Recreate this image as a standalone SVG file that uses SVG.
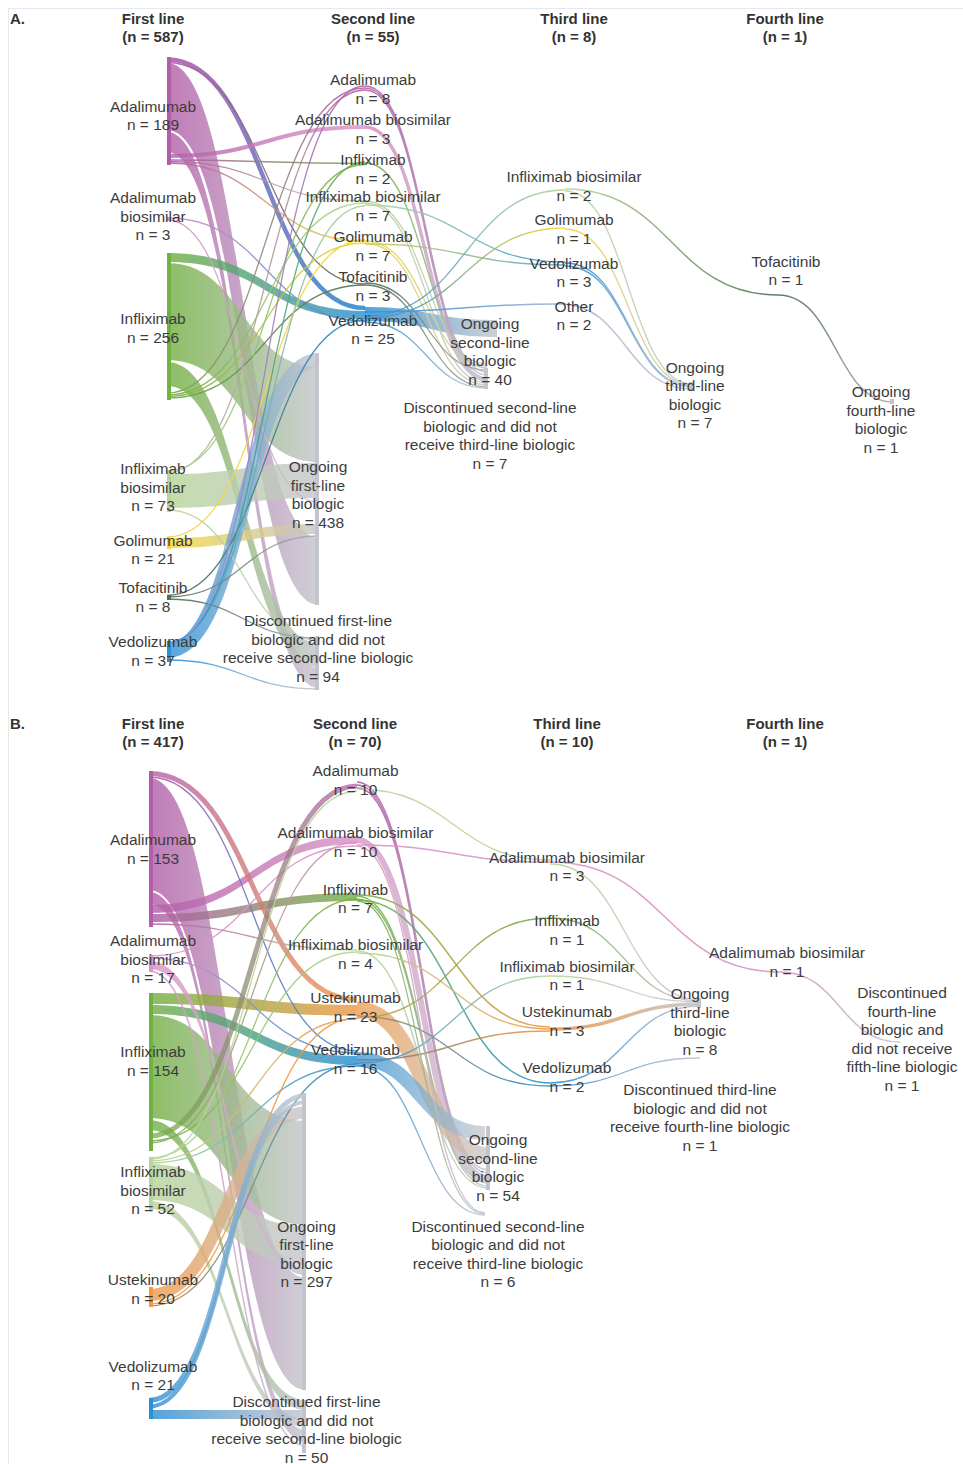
<svg xmlns="http://www.w3.org/2000/svg" width="963" height="1464" viewBox="0 0 963 1464">
<style>
.n{font-family:"Liberation Sans",Arial,sans-serif;font-size:15.5px;fill:#3c3c3c;text-anchor:middle}
.h{font-family:"Liberation Sans",Arial,sans-serif;font-size:15px;font-weight:bold;fill:#333;text-anchor:middle}
.p{font-family:"Liberation Sans",Arial,sans-serif;font-size:15px;font-weight:bold;fill:#333}
.b{fill-opacity:.82}
.l{fill:none}
.gr{fill:#c4c5cc}
</style>
<defs>
<linearGradient id="ADA_GR"><stop offset="0" stop-color="#b35ea9"/><stop offset="1" stop-color="#c4c5cc"/></linearGradient>
<linearGradient id="ADA_VED"><stop offset="0" stop-color="#b35ea9"/><stop offset="1" stop-color="#2b8fd4"/></linearGradient>
<linearGradient id="ADA_TOF"><stop offset="0" stop-color="#b35ea9"/><stop offset="1" stop-color="#4f6d50"/></linearGradient>
<linearGradient id="ADA_ADAb"><stop offset="0" stop-color="#b35ea9"/><stop offset="1" stop-color="#d993c5"/></linearGradient>
<linearGradient id="ADA_IFX"><stop offset="0" stop-color="#b35ea9"/><stop offset="1" stop-color="#72b043"/></linearGradient>
<linearGradient id="ADA_IFXb"><stop offset="0" stop-color="#b35ea9"/><stop offset="1" stop-color="#b7d598"/></linearGradient>
<linearGradient id="ADA_GOL"><stop offset="0" stop-color="#b35ea9"/><stop offset="1" stop-color="#f3d63c"/></linearGradient>
<linearGradient id="ADA_UST"><stop offset="0" stop-color="#b35ea9"/><stop offset="1" stop-color="#ef9845"/></linearGradient>
<linearGradient id="ADAb_VED"><stop offset="0" stop-color="#d993c5"/><stop offset="1" stop-color="#2b8fd4"/></linearGradient>
<linearGradient id="ADAb_GR"><stop offset="0" stop-color="#d993c5"/><stop offset="1" stop-color="#c4c5cc"/></linearGradient>
<linearGradient id="IFX_VED"><stop offset="0" stop-color="#72b043"/><stop offset="1" stop-color="#2b8fd4"/></linearGradient>
<linearGradient id="IFX_GR"><stop offset="0" stop-color="#72b043"/><stop offset="1" stop-color="#c4c5cc"/></linearGradient>
<linearGradient id="IFX_ADA"><stop offset="0" stop-color="#72b043"/><stop offset="1" stop-color="#b35ea9"/></linearGradient>
<linearGradient id="IFX_ADAb"><stop offset="0" stop-color="#72b043"/><stop offset="1" stop-color="#d993c5"/></linearGradient>
<linearGradient id="IFX_IFXb"><stop offset="0" stop-color="#72b043"/><stop offset="1" stop-color="#b7d598"/></linearGradient>
<linearGradient id="IFX_GOL"><stop offset="0" stop-color="#72b043"/><stop offset="1" stop-color="#f3d63c"/></linearGradient>
<linearGradient id="IFX_TOF"><stop offset="0" stop-color="#72b043"/><stop offset="1" stop-color="#4f6d50"/></linearGradient>
<linearGradient id="IFX_UST"><stop offset="0" stop-color="#72b043"/><stop offset="1" stop-color="#ef9845"/></linearGradient>
<linearGradient id="IFXb_GR"><stop offset="0" stop-color="#b7d598"/><stop offset="1" stop-color="#c4c5cc"/></linearGradient>
<linearGradient id="IFXb_IFX"><stop offset="0" stop-color="#b7d598"/><stop offset="1" stop-color="#72b043"/></linearGradient>
<linearGradient id="IFXb_ADA"><stop offset="0" stop-color="#b7d598"/><stop offset="1" stop-color="#b35ea9"/></linearGradient>
<linearGradient id="IFXb_VED"><stop offset="0" stop-color="#b7d598"/><stop offset="1" stop-color="#2b8fd4"/></linearGradient>
<linearGradient id="IFXb_TOF"><stop offset="0" stop-color="#b7d598"/><stop offset="1" stop-color="#4f6d50"/></linearGradient>
<linearGradient id="IFXb_UST"><stop offset="0" stop-color="#b7d598"/><stop offset="1" stop-color="#ef9845"/></linearGradient>
<linearGradient id="GOL_GR"><stop offset="0" stop-color="#f3d63c"/><stop offset="1" stop-color="#c4c5cc"/></linearGradient>
<linearGradient id="GOL_VED"><stop offset="0" stop-color="#c9cf5a"/><stop offset="1" stop-color="#5aa6c9"/></linearGradient>
<linearGradient id="TOF_VED"><stop offset="0" stop-color="#4f6d50"/><stop offset="1" stop-color="#2b8fd4"/></linearGradient>
<linearGradient id="TOF_GR"><stop offset="0" stop-color="#4f6d50"/><stop offset="1" stop-color="#a9b0b2"/></linearGradient>
<linearGradient id="VED_GR"><stop offset="0" stop-color="#2b8fd4"/><stop offset="1" stop-color="#c4c5cc"/></linearGradient>
<linearGradient id="VED_IFXb"><stop offset="0" stop-color="#2b8fd4"/><stop offset="1" stop-color="#b7d598"/></linearGradient>
<linearGradient id="VED_IFX"><stop offset="0" stop-color="#2b8fd4"/><stop offset="1" stop-color="#72b043"/></linearGradient>
<linearGradient id="VED_ADA"><stop offset="0" stop-color="#8fa0dd"/><stop offset="1" stop-color="#b35ea9"/></linearGradient>
<linearGradient id="VED_GOL"><stop offset="0" stop-color="#2b8fd4"/><stop offset="1" stop-color="#f3d63c"/></linearGradient>
<linearGradient id="VED_OTH"><stop offset="0" stop-color="#2b8fd4"/><stop offset="1" stop-color="#9eb2d2"/></linearGradient>
<linearGradient id="VED_UST"><stop offset="0" stop-color="#6f7a8a"/><stop offset="1" stop-color="#ef9845"/></linearGradient>
<linearGradient id="OTH_GR"><stop offset="0" stop-color="#9eb2d2"/><stop offset="1" stop-color="#c4c5cc"/></linearGradient>
<linearGradient id="UST_GR"><stop offset="0" stop-color="#ef9845"/><stop offset="1" stop-color="#c4c5cc"/></linearGradient>
<linearGradient id="UST_VED"><stop offset="0" stop-color="#b08a5a"/><stop offset="1" stop-color="#2b8fd4"/></linearGradient>
<linearGradient id="UST_IFX"><stop offset="0" stop-color="#c09a45"/><stop offset="1" stop-color="#72b043"/></linearGradient>
</defs>
<rect x="0" y="0" width="963" height="1464" fill="#fff"/>
<rect x="8.5" y="8.5" width="960" height="1460" fill="none" stroke="#e3e9ef"/>

<g id="connectors" stroke-width="1.3" stroke-opacity=".9">
<path class="b" fill="url(#ADA_GR)" d="M167,63C243,63 243,538 319,538L319,605C243,605 243,130 167,130Z"/>
<path class="b" fill="url(#ADA_GR)" d="M167,132C243,132 243,668 319,668L319,688C243,688 243,152 167,152Z"/>
<path class="b" fill="url(#IFX_GR)" d="M167,263C243,263 243,367 319,367L319,462C243,462 243,360 167,360Z"/>
<path class="b" fill="url(#IFX_GR)" d="M167,362C243,362 243,643 319,643L319,667C243,667 243,386 167,386Z"/>
<path class="b" fill="url(#IFXb_GR)" d="M167,474C243,474 243,463 319,463L319,498C243,498 243,508 167,508Z"/>
<path class="b" fill="url(#GOL_GR)" d="M167,538C243,538 243,524 319,524L319,534C243,534 243,548 167,548Z"/>
<path class="b" fill="url(#IFX_VED)" d="M167,253C266,253 266,311 365,311L365,319C266,319 266,262 167,262Z"/>
<path class="b" fill="url(#VED_GR)" d="M365,307C431,307 431,320 497,320L497,337C431,337 431,321 365,321Z"/>
<path class="l" stroke="url(#VED_GR)" stroke-width="14" stroke-opacity=".8" d="M167,651C243,651 243,360 319,360"/>
<path class="l" stroke="url(#ADA_VED)" stroke-width="4.5" d="M167,59.5C266,59.5 266,308 365,308"/>
<path class="l" stroke="url(#ADA_TOF)" d="M167,62.5C266,62.5 266,284 365,284"/>
<path class="l" stroke="url(#ADA_ADAb)" stroke-width="4" stroke-opacity=".8" d="M167,156C266,156 266,127 365,127"/>
<path class="l" stroke="url(#ADA_IFX)" stroke-width="1.5" d="M167,160C266,160 266,163.5 365,163.5"/>
<path class="l" stroke="url(#ADA_IFXb)" d="M167,161.5C266,161.5 266,201 365,201"/>
<path class="l" stroke="url(#ADA_GOL)" d="M167,163C266,163 266,241 365,241"/>
<path class="l" stroke="url(#ADAb_VED)" d="M167,218C266,218 266,321 365,321"/>
<path class="l" stroke="url(#ADAb_GR)" d="M167,220C243,220 243,502 319,502"/>
<path class="l" stroke="url(#IFX_ADA)" d="M167,393C266,393 266,88 365,88"/>
<path class="l" stroke="url(#IFX_IFXb)" d="M167,395C266,395 266,203 365,203"/>
<path class="l" stroke="url(#IFX_GOL)" d="M167,396.5C266,396.5 266,243 365,243"/>
<path class="l" stroke="url(#IFX_TOF)" d="M167,398C266,398 266,285 365,285"/>
<path class="l" stroke="url(#IFXb_IFX)" d="M167,471C266,471 266,164.5 365,164.5"/>
<path class="l" stroke="url(#IFXb_ADA)" d="M167,472.5C266,472.5 266,90 365,90"/>
<path class="l" stroke="url(#IFXb_GR)" d="M167,510C243,510 243,640 319,640"/>
<path class="l" stroke="#f3d63c" d="M167,537C266,537 266,240 365,240"/>
<path class="l" stroke="url(#TOF_VED)" d="M167,595.5C266,595.5 266,320 365,320"/>
<path class="l" stroke="url(#TOF_GR)" d="M167,597C243,597 243,536 319,536"/>
<path class="l" stroke="url(#TOF_GR)" d="M167,599C243,599 243,638 319,638"/>
<path class="l" stroke="url(#VED_IFXb)" d="M167,642C266,642 266,206 365,206"/>
<path class="l" stroke="url(#VED_IFX)" d="M167,643.5C266,643.5 266,162 365,162"/>
<path class="l" stroke="url(#VED_ADA)" d="M167,645C266,645 266,86 365,86"/>
<path class="l" stroke="url(#VED_GR)" d="M167,660C243,660 243,689 319,689"/>
<path class="l" stroke="url(#ADA_GR)" stroke-width="1.5" d="M365,86C426,86 426,372 487,372"/>
<path class="l" stroke="url(#ADA_GR)" stroke-width="1.5" d="M365,88C426,88 426,375 487,375"/>
<path class="l" stroke="url(#ADA_GR)" stroke-width="1.5" d="M365,90C426,90 426,378 487,378"/>
<path class="l" stroke="url(#ADAb_GR)" stroke-width="3.5" d="M365,127C426,127 426,380 487,380"/>
<path class="l" stroke="url(#IFX_GR)" stroke-width="1.5" d="M365,163C426,163 426,368 487,368"/>
<path class="l" stroke="url(#IFXb_GR)" d="M365,201C426,201 426,364 487,364"/>
<path class="l" stroke="url(#IFXb_GR)" d="M365,203C426,203 426,383 487,383"/>
<path class="l" stroke="url(#IFXb_VED)" d="M365,205C465,205 465,262 565,262"/>
<path class="l" stroke="url(#GOL_GR)" d="M365,241C426,241 426,366 487,366"/>
<path class="l" stroke="url(#GOL_GR)" d="M365,243C426,243 426,385 487,385"/>
<path class="l" stroke="url(#GOL_VED)" d="M365,244C465,244 465,265 565,265"/>
<path class="l" stroke="url(#TOF_GR)" d="M365,283C426,283 426,370 487,370"/>
<path class="l" stroke="url(#TOF_GR)" d="M365,285C426,285 426,387 487,387"/>
<path class="l" stroke="url(#VED_IFXb)" d="M365,316C465,316 465,190 565,190"/>
<path class="l" stroke="url(#VED_GOL)" d="M365,318C465,318 465,228 565,228"/>
<path class="l" stroke="url(#VED_OTH)" stroke-width="1.5" d="M365,312C462.5,312 462.5,304 560,304"/>
<path class="l" stroke="url(#VED_GR)" d="M365,322C426,322 426,388 487,388"/>
<path class="l" stroke="url(#IFXb_TOF)" stroke-width="1.5" d="M565,189C671.5,189 671.5,295 778,295"/>
<path class="l" stroke="url(#TOF_GR)" stroke-width="1.5" d="M778,295C835.5,295 835.5,402 893,402"/>
<path class="l" stroke="url(#IFXb_GR)" d="M565,191C628.5,191 628.5,384 692,384"/>
<path class="l" stroke="url(#GOL_GR)" d="M565,229C628.5,229 628.5,385 692,385"/>
<path class="l" stroke="url(#VED_GR)" d="M565,263C628.5,263 628.5,386 692,386"/>
<path class="l" stroke="url(#VED_GR)" d="M565,266C628.5,266 628.5,387 692,387"/>
<path class="l" stroke="url(#OTH_GR)" stroke-width="1.5" d="M560,304C626,304 626,389 692,389"/>

<path class="b" fill="url(#ADA_GR)" d="M149,778C227.5,778 227.5,1278 306,1278L306,1390C227.5,1390 227.5,890 149,890Z"/>
<path class="b" fill="url(#ADA_GR)" d="M149,892C227.5,892 227.5,1430 306,1430L306,1442C227.5,1442 227.5,904 149,904Z"/>
<path class="b" fill="url(#ADA_ADAb)" d="M149,905C253,905 253,836 357,836L357,844C253,844 253,913 149,913Z"/>
<path class="b" fill="url(#ADA_IFX)" d="M149,914C253,914 253,893 357,893L357,901C253,901 253,922 149,922Z"/>
<path class="b" fill="url(#IFX_UST)" d="M149,993C253,993 253,1005 357,1005L357,1016C253,1016 253,1004 149,1004Z"/>
<path class="b" fill="url(#IFX_VED)" d="M149,1005C253,1005 253,1056 357,1056L357,1065C253,1065 253,1014 149,1014Z"/>
<path class="b" fill="url(#IFX_GR)" d="M149,1015C227.5,1015 227.5,1121 306,1121L306,1225C227.5,1225 227.5,1118 149,1118Z"/>
<path class="b" fill="url(#IFX_GR)" d="M149,1120C227.5,1120 227.5,1400 306,1400L306,1410C227.5,1410 227.5,1130 149,1130Z"/>
<path class="b" fill="url(#IFXb_GR)" d="M149,1164C227.5,1164 227.5,1226 306,1226L306,1265C227.5,1265 227.5,1200 149,1200Z"/>
<path class="b" fill="url(#IFXb_GR)" d="M149,1201C227.5,1201 227.5,1419 306,1419L306,1427C227.5,1427 227.5,1209 149,1209Z"/>
<path class="b" fill="url(#VED_GR)" d="M149,1410L306,1410L306,1419L149,1419Z"/>
<path class="b" fill="url(#ADAb_GR)" d="M149,961C227.5,961 227.5,1267 306,1267L306,1275C227.5,1275 227.5,969 149,969Z"/>
<path class="l" stroke="url(#ADA_UST)" stroke-width="5" stroke-opacity=".8" d="M149,773.5C253,773.5 253,999.5 357,999.5"/>
<path class="l" stroke="url(#ADA_VED)" d="M149,777C253,777 253,1051 357,1051"/>
<path class="l" stroke="url(#ADA_IFXb)" d="M149,924C253,924 253,950 357,950"/>
<path class="l" stroke="#d993c5" d="M149,956C253,956 253,846 357,846"/>
<path class="l" stroke="url(#ADAb_VED)" d="M149,958C253,958 253,1053 357,1053"/>
<path class="l" stroke="url(#ADAb_GR)" stroke-width="1.5" d="M149,971C227.5,971 227.5,1446 306,1446"/>
<path class="l" stroke="url(#IFX_ADA)" stroke-width="5" stroke-opacity=".75" d="M149,1136C253,1136 253,786 357,786"/>
<path class="l" stroke="url(#IFX_IFXb)" d="M149,1141C253,1141 253,952 357,952"/>
<path class="l" stroke="url(#IFX_ADAb)" d="M149,1143C253,1143 253,842 357,842"/>
<path class="l" stroke="url(#IFXb_IFX)" d="M149,1158C253,1158 253,899 357,899"/>
<path class="l" stroke="#b7d598" d="M149,1159.5C253,1159.5 253,791 357,791"/>
<path class="l" stroke="url(#IFXb_UST)" d="M149,1161C253,1161 253,1019 357,1019"/>
<path class="l" stroke="url(#IFXb_VED)" d="M149,1163C253,1163 253,1066 357,1066"/>
<path class="l" stroke="url(#UST_GR)" stroke-width="12" stroke-opacity=".8" d="M149,1295C227.5,1295 227.5,1112.5 306,1112.5"/>
<path class="l" stroke="#ef9845" d="M149,1304C253,1304 253,1018 357,1018"/>
<path class="l" stroke="url(#UST_VED)" d="M149,1306C253,1306 253,1064 357,1064"/>
<path class="l" stroke="url(#VED_GR)" stroke-width="5" stroke-opacity=".8" d="M149,1400.5C227.5,1400.5 227.5,1095.5 306,1095.5"/>
<path class="l" stroke="url(#VED_GR)" stroke-width="4" stroke-opacity=".8" d="M149,1406.5C227.5,1406.5 227.5,1102 306,1102"/>
<path class="l" stroke="url(#ADA_GR)" stroke-width="1.6" d="M357,782C422.5,782 422.5,1170 488,1170"/>
<path class="l" stroke="url(#ADA_GR)" stroke-width="1.6" d="M357,785C422.5,785 422.5,1173 488,1173"/>
<path class="l" stroke="url(#ADA_GR)" stroke-width="1.6" d="M357,788C422.5,788 422.5,1176 488,1176"/>
<path class="l" stroke="#b7d598" d="M357,789C453.5,789 453.5,860 550,860"/>
<path class="l" stroke="url(#ADAb_GR)" stroke-width="6" stroke-opacity=".8" d="M357,840C422.5,840 422.5,1180 488,1180"/>
<path class="l" stroke="#d993c5" stroke-width="1.5" d="M357,845C453.5,845 453.5,862 550,862"/>
<path class="l" stroke="url(#IFX_GR)" stroke-width="1.5" d="M357,896C422.5,896 422.5,1183 488,1183"/>
<path class="l" stroke="url(#IFX_GR)" stroke-width="1.5" d="M357,899C422.5,899 422.5,1186 488,1186"/>
<path class="l" stroke="url(#IFX_UST)" stroke-width="1.5" d="M357,895C453.5,895 453.5,1027 550,1027"/>
<path class="l" stroke="url(#IFX_VED)" stroke-width="1.5" d="M357,900C453.5,900 453.5,1083 550,1083"/>
<path class="l" stroke="url(#IFXb_GR)" d="M357,951C422.5,951 422.5,1188 488,1188"/>
<path class="l" stroke="url(#IFXb_UST)" d="M357,953C453.5,953 453.5,1029 550,1029"/>
<path class="l" stroke="url(#UST_GR)" stroke-width="15" stroke-opacity=".75" d="M357,1009C423.5,1009 423.5,1155 490,1155"/>
<path class="l" stroke="url(#UST_VED)" d="M357,1016C453.5,1016 453.5,1086 550,1086"/>
<path class="l" stroke="url(#UST_IFX)" d="M357,1018C453.5,1018 453.5,918 550,918"/>
<path class="l" stroke="url(#VED_GR)" stroke-width="14" stroke-opacity=".72" d="M357,1059C421,1059 421,1133 485,1133"/>
<path class="l" stroke="url(#VED_IFXb)" d="M357,1063C453.5,1063 453.5,976 550,976"/>
<path class="l" stroke="url(#VED_UST)" stroke-width="1.5" d="M357,1060C453.5,1060 453.5,1031 550,1031"/>
<path class="l" stroke="url(#VED_GR)" d="M357,1066C421,1066 421,1215 485,1215"/>
<path class="l" stroke="url(#ADAb_GR)" d="M357,846C421,846 421,1213 485,1213"/>
<path class="l" stroke="url(#IFX_GR)" d="M357,901C421,901 421,1214 485,1214"/>
<path class="l" stroke="#d993c5" stroke-width="1.5" d="M550,862C665,862 665,972 780,972"/>
<path class="l" stroke="url(#ADAb_GR)" stroke-width="1.5" d="M780,972C840,972 840,1042 900,1042"/>
<path class="l" stroke="url(#IFXb_GR)" d="M550,864C625,864 625,1000 700,1000"/>
<path class="l" stroke="url(#IFX_GR)" d="M550,918C625,918 625,1001 700,1001"/>
<path class="l" stroke="url(#IFXb_GR)" d="M550,976C625,976 625,1002 700,1002"/>
<path class="l" stroke="url(#UST_GR)" stroke-width="3.5" d="M550,1029C625,1029 625,1004 700,1004"/>
<path class="l" stroke="url(#VED_GR)" stroke-width="1.5" d="M550,1083C625,1083 625,1006 700,1006"/>
<path class="l" stroke="url(#VED_GR)" d="M550,1086C625,1086 625,1058 700,1058"/>
</g>

<text class="p" x="10" y="24">A.</text>
<text class="h"><tspan x="153" y="24">First line</tspan><tspan x="153" y="42">(n = 587)</tspan></text>
<text class="h"><tspan x="373" y="24">Second line</tspan><tspan x="373" y="42">(n = 55)</tspan></text>
<text class="h"><tspan x="574" y="24">Third line</tspan><tspan x="574" y="42">(n = 8)</tspan></text>
<text class="h"><tspan x="785" y="24">Fourth line</tspan><tspan x="785" y="42">(n = 1)</tspan></text>

<g id="a-ada1"><rect x="167" y="57" width="4" height="108" fill="#b35ea9"/><text class="n"><tspan x="153" y="111.5">Adalimumab</tspan><tspan x="153" y="130">n = 189</tspan></text></g>
<g id="a-adab1"><rect x="167" y="217" width="4" height="4" fill="#d993c5"/><text class="n"><tspan x="153" y="203">Adalimumab</tspan><tspan x="153" y="221.5">biosimilar</tspan><tspan x="153" y="240">n = 3</tspan></text></g>
<g id="a-ifx1"><rect x="167" y="253" width="4" height="147" fill="#72b043"/><text class="n"><tspan x="153" y="324">Infliximab</tspan><tspan x="153" y="342.5">n = 256</tspan></text></g>
<g id="a-ifxb1"><rect x="167" y="470" width="4" height="42" fill="#b7d598"/><text class="n"><tspan x="153" y="474">Infliximab</tspan><tspan x="153" y="492.5">biosimilar</tspan><tspan x="153" y="511">n = 73</tspan></text></g>
<g id="a-gol1"><rect x="167" y="537" width="4" height="12" fill="#f3d63c"/><text class="n"><tspan x="153" y="545.5">Golimumab</tspan><tspan x="153" y="564">n = 21</tspan></text></g>
<g id="a-tof1"><rect x="167" y="595" width="4" height="5" fill="#4f6d50"/><text class="n"><tspan x="153" y="593">Tofacitinib</tspan><tspan x="153" y="611.5">n = 8</tspan></text></g>
<g id="a-ved1"><rect x="167" y="641" width="4" height="21" fill="#2b8fd4"/><text class="n"><tspan x="153" y="647">Vedolizumab</tspan><tspan x="153" y="665.5">n = 37</tspan></text></g>
<g id="a-ong1"><rect x="315" y="353" width="4" height="252" class="gr"/><text class="n"><tspan x="318" y="472">Ongoing</tspan><tspan x="318" y="490.5">first-line</tspan><tspan x="318" y="509">biologic</tspan><tspan x="318" y="527.5">n = 438</tspan></text></g>
<g id="a-disc1"><rect x="315" y="636" width="4" height="54" class="gr"/><text class="n"><tspan x="318" y="626">Discontinued first-line</tspan><tspan x="318" y="644.5">biologic and did not</tspan><tspan x="318" y="663">receive second-line biologic</tspan><tspan x="318" y="681.5">n = 94</tspan></text></g>
<g id="a-ada2"><text class="n"><tspan x="373" y="85">Adalimumab</tspan><tspan x="373" y="103.5">n = 8</tspan></text></g>
<g id="a-adab2"><text class="n"><tspan x="373" y="125">Adalimumab biosimilar</tspan><tspan x="373" y="143.5">n = 3</tspan></text></g>
<g id="a-ifx2"><text class="n"><tspan x="373" y="165">Infliximab</tspan><tspan x="373" y="183.5">n = 2</tspan></text></g>
<g id="a-ifxb2"><text class="n"><tspan x="373" y="202">Infliximab biosimilar</tspan><tspan x="373" y="220.5">n = 7</tspan></text></g>
<g id="a-gol2"><text class="n"><tspan x="373" y="242">Golimumab</tspan><tspan x="373" y="260.5">n = 7</tspan></text></g>
<g id="a-tof2"><text class="n"><tspan x="373" y="282">Tofacitinib</tspan><tspan x="373" y="300.5">n = 3</tspan></text></g>
<g id="a-ved2"><text class="n"><tspan x="373" y="325.5">Vedolizumab</tspan><tspan x="373" y="344">n = 25</tspan></text></g>
<g id="a-ong2"><rect x="484" y="368" width="4" height="21" class="gr"/><text class="n"><tspan x="490" y="329">Ongoing</tspan><tspan x="490" y="347.5">second-line</tspan><tspan x="490" y="366">biologic</tspan><tspan x="490" y="384.5">n = 40</tspan></text></g>
<g id="a-disc2"><text class="n"><tspan x="490" y="413">Discontinued second-line</tspan><tspan x="490" y="431.5">biologic and did not</tspan><tspan x="490" y="450">receive third-line biologic</tspan><tspan x="490" y="468.5">n = 7</tspan></text></g>
<g id="a-ifxb3"><text class="n"><tspan x="574" y="182">Infliximab biosimilar</tspan><tspan x="574" y="200.5">n = 2</tspan></text></g>
<g id="a-gol3"><text class="n"><tspan x="574" y="225">Golimumab</tspan><tspan x="574" y="243.5">n = 1</tspan></text></g>
<g id="a-ved3"><text class="n"><tspan x="574" y="268.5">Vedolizumab</tspan><tspan x="574" y="287">n = 3</tspan></text></g>
<g id="a-oth3"><text class="n"><tspan x="574" y="311.5">Other</tspan><tspan x="574" y="330">n = 2</tspan></text></g>
<g id="a-ong3"><rect x="689" y="382" width="4" height="9" class="gr"/><text class="n"><tspan x="695" y="372.5">Ongoing</tspan><tspan x="695" y="391">third-line</tspan><tspan x="695" y="409.5">biologic</tspan><tspan x="695" y="428">n = 7</tspan></text></g>
<g id="a-tof4"><text class="n"><tspan x="786" y="266.5">Tofacitinib</tspan><tspan x="786" y="285">n = 1</tspan></text></g>
<g id="a-ong4"><rect x="890" y="399" width="4" height="5" class="gr"/><text class="n"><tspan x="881" y="397">Ongoing</tspan><tspan x="881" y="415.5">fourth-line</tspan><tspan x="881" y="434">biologic</tspan><tspan x="881" y="452.5">n = 1</tspan></text></g>

<text class="p" x="10" y="729">B.</text>
<text class="h"><tspan x="153" y="729">First line</tspan><tspan x="153" y="747">(n = 417)</tspan></text>
<text class="h"><tspan x="355" y="729">Second line</tspan><tspan x="355" y="747">(n = 70)</tspan></text>
<text class="h"><tspan x="567" y="729">Third line</tspan><tspan x="567" y="747">(n = 10)</tspan></text>
<text class="h"><tspan x="785" y="729">Fourth line</tspan><tspan x="785" y="747">(n = 1)</tspan></text>

<g id="b-ada1"><rect x="149" y="771" width="4" height="156" fill="#b35ea9"/><text class="n"><tspan x="153" y="845">Adalimumab</tspan><tspan x="153" y="863.5">n = 153</tspan></text></g>
<g id="b-adab1"><rect x="149" y="955" width="4" height="17" fill="#d993c5"/><text class="n"><tspan x="153" y="946">Adalimumab</tspan><tspan x="153" y="964.5">biosimilar</tspan><tspan x="153" y="983">n = 17</tspan></text></g>
<g id="b-ifx1"><rect x="149" y="993" width="4" height="158" fill="#72b043"/><text class="n"><tspan x="153" y="1057">Infliximab</tspan><tspan x="153" y="1075.5">n = 154</tspan></text></g>
<g id="b-ifxb1"><rect x="149" y="1157" width="4" height="53" fill="#b7d598"/><text class="n"><tspan x="153" y="1177">Infliximab</tspan><tspan x="153" y="1195.5">biosimilar</tspan><tspan x="153" y="1214">n = 52</tspan></text></g>
<g id="b-ust1"><rect x="149" y="1287" width="4" height="20" fill="#ef9845"/><text class="n"><tspan x="153" y="1285">Ustekinumab</tspan><tspan x="153" y="1303.5">n = 20</tspan></text></g>
<g id="b-ved1"><rect x="149" y="1398" width="4" height="21" fill="#2b8fd4"/><text class="n"><tspan x="153" y="1371.5">Vedolizumab</tspan><tspan x="153" y="1390">n = 21</tspan></text></g>
<g id="b-ong1"><rect x="302" y="1093" width="4" height="297" class="gr"/><text class="n"><tspan x="306.5" y="1231.5">Ongoing</tspan><tspan x="306.5" y="1250">first-line</tspan><tspan x="306.5" y="1268.5">biologic</tspan><tspan x="306.5" y="1287">n = 297</tspan></text></g>
<g id="b-disc1"><rect x="302" y="1400" width="4" height="53" class="gr"/><text class="n"><tspan x="306.5" y="1407">Discontinued first-line</tspan><tspan x="306.5" y="1425.5">biologic and did not</tspan><tspan x="306.5" y="1444">receive second-line biologic</tspan><tspan x="306.5" y="1462.5">n = 50</tspan></text></g>
<g id="b-ada2"><text class="n"><tspan x="355.5" y="776">Adalimumab</tspan><tspan x="355.5" y="794.5">n = 10</tspan></text></g>
<g id="b-adab2"><text class="n"><tspan x="355.5" y="838">Adalimumab biosimilar</tspan><tspan x="355.5" y="856.5">n = 10</tspan></text></g>
<g id="b-ifx2"><text class="n"><tspan x="355.5" y="895">Infliximab</tspan><tspan x="355.5" y="913">n = 7</tspan></text></g>
<g id="b-ifxb2"><text class="n"><tspan x="355.5" y="950">Infliximab biosimilar</tspan><tspan x="355.5" y="968.5">n = 4</tspan></text></g>
<g id="b-ust2"><text class="n"><tspan x="355.5" y="1003">Ustekinumab</tspan><tspan x="355.5" y="1021.5">n = 23</tspan></text></g>
<g id="b-ved2"><text class="n"><tspan x="355.5" y="1055">Vedolizumab</tspan><tspan x="355.5" y="1073.5">n = 16</tspan></text></g>
<g id="b-ong2"><rect x="486" y="1126" width="4" height="64" class="gr"/><text class="n"><tspan x="498" y="1145">Ongoing</tspan><tspan x="498" y="1163.5">second-line</tspan><tspan x="498" y="1182">biologic</tspan><tspan x="498" y="1200.5">n = 54</tspan></text></g>
<g id="b-disc2"><text class="n"><tspan x="498" y="1231.5">Discontinued second-line</tspan><tspan x="498" y="1250">biologic and did not</tspan><tspan x="498" y="1268.5">receive third-line biologic</tspan><tspan x="498" y="1287">n = 6</tspan></text></g>
<g id="b-adab3"><text class="n"><tspan x="567" y="862.5">Adalimumab biosimilar</tspan><tspan x="567" y="881">n = 3</tspan></text></g>
<g id="b-ifx3"><text class="n"><tspan x="567" y="926">Infliximab</tspan><tspan x="567" y="944.5">n = 1</tspan></text></g>
<g id="b-ifxb3"><text class="n"><tspan x="567" y="971.5">Infliximab biosimilar</tspan><tspan x="567" y="990">n = 1</tspan></text></g>
<g id="b-ust3"><text class="n"><tspan x="567" y="1017">Ustekinumab</tspan><tspan x="567" y="1035.5">n = 3</tspan></text></g>
<g id="b-ved3"><text class="n"><tspan x="567" y="1073">Vedolizumab</tspan><tspan x="567" y="1091.5">n = 2</tspan></text></g>
<g id="b-ong3"><rect x="697" y="998" width="4" height="10" class="gr"/><text class="n"><tspan x="700" y="999">Ongoing</tspan><tspan x="700" y="1017.5">third-line</tspan><tspan x="700" y="1036">biologic</tspan><tspan x="700" y="1054.5">n = 8</tspan></text></g>
<g id="b-disc3"><text class="n"><tspan x="700" y="1095">Discontinued third-line</tspan><tspan x="700" y="1113.5">biologic and did not</tspan><tspan x="700" y="1132">receive fourth-line biologic</tspan><tspan x="700" y="1150.5">n = 1</tspan></text></g>
<g id="b-adab4"><text class="n"><tspan x="787" y="958">Adalimumab biosimilar</tspan><tspan x="787" y="976.5">n = 1</tspan></text></g>
<g id="b-disc4"><text class="n"><tspan x="902" y="998">Discontinued</tspan><tspan x="902" y="1016.5">fourth-line</tspan><tspan x="902" y="1035">biologic and</tspan><tspan x="902" y="1053.5">did not receive</tspan><tspan x="902" y="1072">fifth-line biologic</tspan><tspan x="902" y="1090.5">n = 1</tspan></text></g>
</svg>
